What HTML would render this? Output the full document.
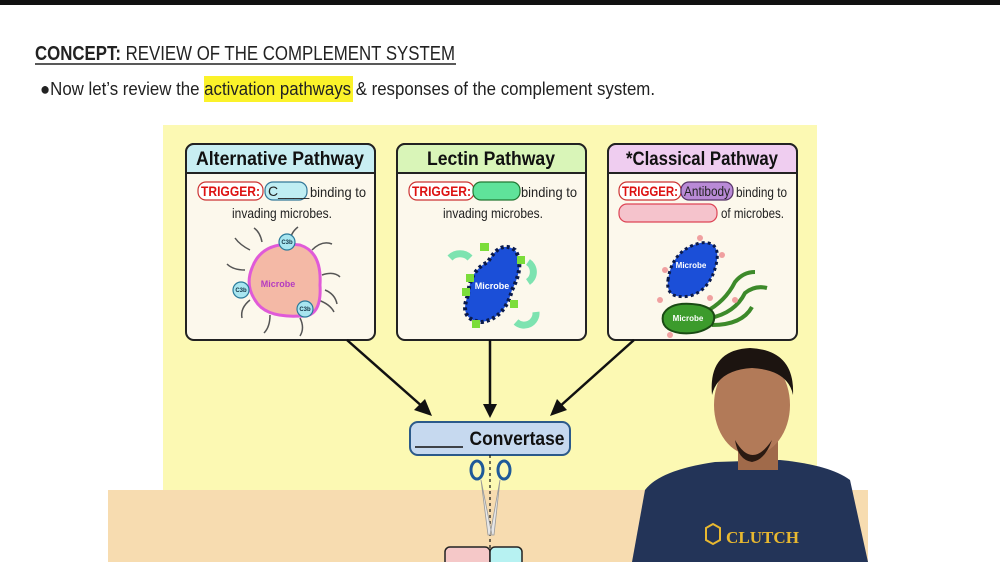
<!DOCTYPE html>
<html><head><meta charset="utf-8"><style>
html,body{margin:0;padding:0;background:#fff;}
svg{display:block;font-family:"Liberation Sans Narrow","Liberation Sans",sans-serif;}
</style></head><body>
<svg width="1000" height="562" viewBox="0 0 1000 562" xmlns="http://www.w3.org/2000/svg">
<rect x="0" y="0" width="1000" height="5" fill="#111"/>
<text x="35" y="60" font-size="20" fill="#222" textLength="420" lengthAdjust="spacingAndGlyphs"><tspan font-weight="bold">CONCEPT:</tspan> REVIEW OF THE COMPLEMENT SYSTEM</text>
<line x1="35" y1="64" x2="456" y2="64" stroke="#222" stroke-width="1.5"/>
<rect x="204" y="76" width="149" height="26" fill="#fbf22a"/>
<text x="40" y="95" font-size="18" fill="#222" textLength="615" lengthAdjust="spacingAndGlyphs">●Now let’s review the activation pathways &amp; responses of the complement system.</text>

<rect x="163" y="125" width="654" height="366" fill="#fcf9b3"/>
<rect x="108" y="490" width="760" height="72" fill="#f7dcb0"/>

<!-- boxes -->
<g stroke="#222" stroke-width="2">
<rect x="186" y="144" width="189" height="196" rx="8" fill="#fcf8ec"/>
<path d="M186 173 V152 a8 8 0 0 1 8 -8 H367 a8 8 0 0 1 8 8 V173 Z" fill="#c8eef2"/>
<rect x="397" y="144" width="189" height="196" rx="8" fill="#fcf8ec"/>
<path d="M397 173 V152 a8 8 0 0 1 8 -8 H578 a8 8 0 0 1 8 8 V173 Z" fill="#d9f5b8"/>
<rect x="608" y="144" width="189" height="196" rx="8" fill="#fcf8ec"/>
<path d="M608 173 V152 a8 8 0 0 1 8 -8 H789 a8 8 0 0 1 8 8 V173 Z" fill="#efcdf0"/>
</g>
<g font-size="19" font-weight="bold" fill="#111" text-anchor="middle">
<text x="280" y="165" textLength="168" lengthAdjust="spacingAndGlyphs">Alternative Pathway</text>
<text x="491" y="165" textLength="128" lengthAdjust="spacingAndGlyphs">Lectin Pathway</text>
<text x="702" y="165" textLength="152" lengthAdjust="spacingAndGlyphs">*Classical Pathway</text>
</g>
<!-- triggers -->
<g font-size="14">
<rect x="198" y="182" width="65" height="18" rx="8" fill="#fff" stroke="#c33" stroke-width="1.2"/>
<text x="201" y="196" fill="#d11" font-weight="bold" textLength="59" lengthAdjust="spacingAndGlyphs">TRIGGER:</text>
<rect x="265" y="182" width="42" height="18" rx="8" fill="#bfeef3" stroke="#379" stroke-width="1.2"/>
<text x="268" y="196" fill="#222">C____</text>
<text x="310" y="197" fill="#222" textLength="56" lengthAdjust="spacingAndGlyphs">binding to</text>
<text x="282" y="218" fill="#222" text-anchor="middle" textLength="100" lengthAdjust="spacingAndGlyphs">invading microbes.</text>

<rect x="409" y="182" width="65" height="18" rx="8" fill="#fff" stroke="#c33" stroke-width="1.2"/>
<text x="412" y="196" fill="#d11" font-weight="bold" textLength="59" lengthAdjust="spacingAndGlyphs">TRIGGER:</text>
<rect x="473" y="182" width="47" height="18" rx="8" fill="#5fe39a" stroke="#273" stroke-width="1.2"/>
<text x="521" y="197" fill="#222" textLength="56" lengthAdjust="spacingAndGlyphs">binding to</text>
<text x="493" y="218" fill="#222" text-anchor="middle" textLength="100" lengthAdjust="spacingAndGlyphs">invading microbes.</text>

<rect x="619" y="182" width="62" height="18" rx="8" fill="#fff" stroke="#c33" stroke-width="1.2"/>
<text x="622" y="196" fill="#d11" font-weight="bold" textLength="56" lengthAdjust="spacingAndGlyphs">TRIGGER:</text>
<rect x="681" y="182" width="52" height="18" rx="8" fill="#b98ad6" stroke="#536" stroke-width="1.2"/>
<text x="684" y="196" fill="#222" textLength="46" lengthAdjust="spacingAndGlyphs">Antibody</text>
<text x="736" y="197" fill="#222" textLength="51" lengthAdjust="spacingAndGlyphs">binding to</text>
<rect x="619" y="204" width="98" height="18" rx="8" fill="#f5c3cc" stroke="#d45" stroke-width="1.2"/>
<text x="721" y="218" fill="#222" textLength="63" lengthAdjust="spacingAndGlyphs">of microbes.</text>
</g>

<!-- alt microbe -->
<g stroke="#555" stroke-width="1.5" fill="none">
<path d="M250 250 q-10 -5 -15 -12"/><path d="M245 270 q-12 0 -18 -6"/><path d="M250 300 q-10 8 -8 18"/><path d="M270 315 q0 12 -6 18"/><path d="M300 318 q5 10 0 18"/><path d="M318 300 q12 4 16 12"/><path d="M322 275 q12 -4 18 2"/><path d="M312 250 q10 -10 20 -6"/><path d="M290 243 q0 -10 8 -16"/><path d="M262 242 q-2 -10 -8 -14"/><path d="M325 290 q10 4 12 14"/>
</g>
<path d="M252 268 Q262 240 300 245 Q322 252 320 285 Q322 318 300 316 Q265 318 255 300 Q245 285 252 268 Z" fill="#f4b9a6" stroke="#e05ad8" stroke-width="3"/>
<text x="278" y="287" font-size="9" font-weight="bold" fill="#b43cc0" text-anchor="middle">Microbe</text>
<g fill="#a8e6f0" stroke="#2a7a9a" stroke-width="1.2"><circle cx="287" cy="242" r="8"/><circle cx="241" cy="290" r="8"/><circle cx="305" cy="309" r="8"/></g>
<g font-size="6" font-weight="bold" fill="#134" text-anchor="middle"><text x="287" y="244">C3b</text><text x="241" y="292">C3b</text><text x="305" y="311">C3b</text></g>

<!-- lectin microbe -->
<path d="M468 295 Q470 270 488 262 Q500 240 515 250 Q525 265 512 290 Q505 318 482 322 Q458 320 468 295 Z" fill="#1b4fd8" stroke="#0b1a4a" stroke-width="4" stroke-dasharray="3 3"/>
<g fill="#7bdd3a"><rect x="480" y="243" width="9" height="8"/><rect x="517" y="256" width="8" height="8"/><rect x="462" y="288" width="8" height="8"/><rect x="472" y="320" width="8" height="8"/><rect x="510" y="300" width="8" height="8"/><rect x="466" y="274" width="8" height="8"/></g>
<text x="492" y="289" font-size="9" font-weight="bold" fill="#fff" text-anchor="middle">Microbe</text>
<path d="M450 258 a14 14 0 0 1 20 0" fill="none" stroke="#7de3b0" stroke-width="7"/>
<path d="M528 262 a12 12 0 0 1 0 20" fill="none" stroke="#7de3b0" stroke-width="7"/>
<path d="M536 312 a12 12 0 0 1 -20 10" fill="none" stroke="#7de3b0" stroke-width="7"/>

<!-- classical microbes -->
<path d="M668 280 Q672 250 700 243 Q722 240 716 265 Q710 290 690 296 Q665 300 668 280 Z" fill="#1b4fd8" stroke="#0b1a4a" stroke-width="3" stroke-dasharray="3 3"/>
<text x="691" y="268" font-size="8" font-weight="bold" fill="#fff" text-anchor="middle">Microbe</text>
<g fill="none" stroke="#3d8a2a" stroke-width="4"><path d="M705 312 q20 -10 30 -30 q8 -10 20 -10"/><path d="M710 318 q25 -5 35 -25 q10 -8 22 -5"/><path d="M712 325 q30 0 40 -18"/></g>
<path d="M663 315 Q670 300 700 305 Q720 310 712 325 Q700 335 680 333 Q660 330 663 315 Z" fill="#3c9b2c" stroke="#1a4a14" stroke-width="2"/>
<text x="688" y="321" font-size="8" font-weight="bold" fill="#fff" text-anchor="middle">Microbe</text>
<g fill="#f0a0a0"><circle cx="665" cy="270" r="3"/><circle cx="700" cy="238" r="3"/><circle cx="722" cy="255" r="3"/><circle cx="660" cy="300" r="3"/><circle cx="710" cy="298" r="3"/><circle cx="735" cy="300" r="3"/><circle cx="670" cy="335" r="3"/></g>

<!-- arrows -->
<g stroke="#111" stroke-width="2.5">
<line x1="347" y1="340" x2="424" y2="408"/>
<line x1="490" y1="340" x2="490" y2="408"/>
<line x1="634" y1="340" x2="558" y2="408"/>
</g>
<g fill="#111">
<polygon points="432,416 414,410 425,399"/>
<polygon points="490,418 483,404 497,404"/>
<polygon points="550,416 557,399 567,410"/>
</g>

<!-- convertase -->
<rect x="410" y="422" width="160" height="33" rx="8" fill="#c6d9ef" stroke="#2b5a8a" stroke-width="2"/>
<line x1="415" y1="447" x2="463" y2="447" stroke="#111" stroke-width="1.5"/>
<text x="517" y="445" font-size="19" font-weight="bold" fill="#111" text-anchor="middle" textLength="95" lengthAdjust="spacingAndGlyphs">Convertase</text>
<line x1="490" y1="455" x2="490" y2="562" stroke="#111" stroke-width="1.2" stroke-dasharray="3 3"/>
<g fill="none" stroke="#1f5a99" stroke-width="3"><ellipse cx="477" cy="470" rx="6" ry="9"/><ellipse cx="504" cy="470" rx="6" ry="9"/></g>
<path d="M481 480 L492 535 L488 535 Z M500 480 L490 535 L494 535 Z" fill="#e6e6e6" stroke="#999" stroke-width="0.8"/>
<rect x="445" y="547" width="45" height="20" rx="5" fill="#f5c8c8" stroke="#222" stroke-width="1.5"/>
<rect x="490" y="547" width="32" height="20" rx="5" fill="#b7f2f2" stroke="#222" stroke-width="1.5"/>

<!-- person -->
<path d="M632 562 L645 490 Q660 470 715 462 L780 460 Q830 465 850 480 L868 562 Z" fill="#233458"/>
<rect x="738" y="440" width="40" height="30" fill="#a06a4a"/>
<ellipse cx="752" cy="405" rx="38" ry="50" fill="#b27a58"/>
<path d="M712 395 Q708 350 750 348 Q795 350 793 395 Q788 370 752 368 Q718 370 712 395 Z" fill="#1c1410"/>
<path d="M735 440 Q752 470 772 440 Q765 460 752 462 Q738 460 735 440 Z" fill="#2a1a12"/>
<polygon points="706,528 713,524 720,528 720,540 713,544 706,540" fill="none" stroke="#e8b830" stroke-width="2"/>
<text x="726" y="543" font-size="17" font-weight="bold" fill="#e8b830" font-family="Liberation Serif,serif" textLength="73" lengthAdjust="spacingAndGlyphs">CLUTCH</text>
</svg>
</body></html>
